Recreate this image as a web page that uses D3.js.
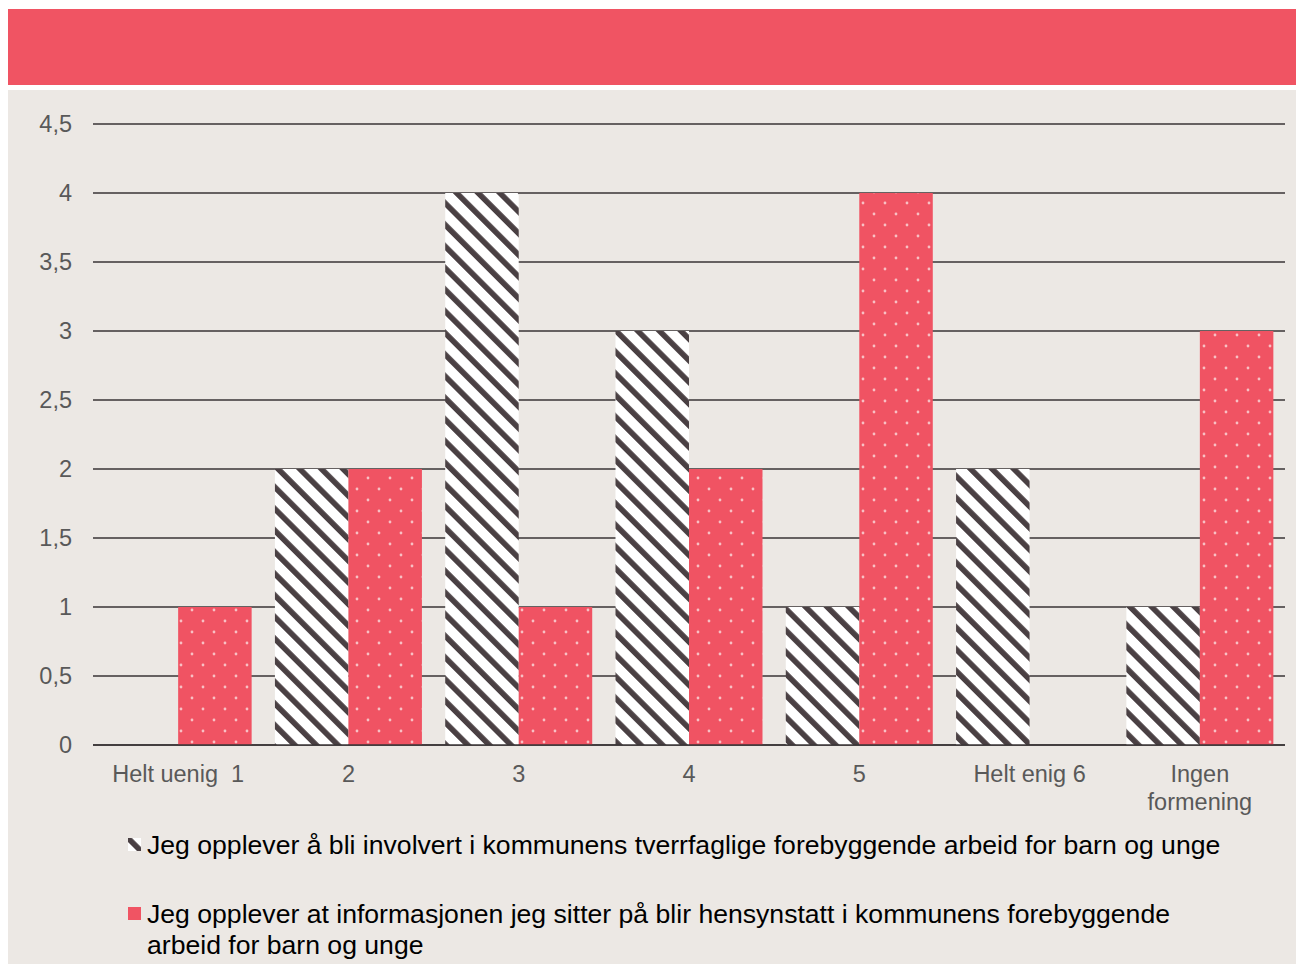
<!DOCTYPE html>
<html lang="en">
<head>
<meta charset="utf-8">
<title>Chart</title>
<script src="https://d3js.org/d3.v7.min.js"></script>
<style>
body { margin: 0; background: #fff; }
text { font-family: "Liberation Sans", Arial, sans-serif; }
</style>
</head>
<body>
<div id="container"></div>
<script>
var w = 1296, h = 964;

var categories = ["Helt uenig  1", "2", "3", "4", "5", "Helt enig 6", "Ingen formening"];
var involvert = [0, 2, 4, 3, 1, 2, 1];
var hensyn = [1, 2, 1, 2, 4, 0, 3];
var yTicks = [0, 0.5, 1, 1.5, 2, 2.5, 3, 3.5, 4, 4.5];
var legendLabels = [
  "Jeg opplever å bli involvert i kommunens tverrfaglige forebyggende arbeid for barn og unge",
  "Jeg opplever at informasjonen jeg sitter på blir hensynstatt i kommunens forebyggende|arbeid for barn og unge"
];

var svg = d3.select("#container").append("svg")
  .attr("width", w).attr("height", h);

var defs = svg.append("defs");
// diagonal stripes, top-left to bottom-right
var sp = 15.3;
var stripe = defs.append("pattern").attr("id", "stripes")
  .attr("patternUnits", "userSpaceOnUse").attr("width", sp).attr("height", sp)
  .attr("patternTransform", "rotate(-45)");
stripe.append("rect").attr("width", sp).attr("height", sp).attr("fill", "#fff");
stripe.append("rect").attr("width", 5.6).attr("height", sp).attr("fill", "#4a4043");
// dots on red
var dots = defs.append("pattern").attr("id", "dots")
  .attr("patternUnits", "userSpaceOnUse").attr("width", 22).attr("height", 22);
dots.append("rect").attr("width", 22).attr("height", 22).attr("fill", "#f05363");
dots.append("circle").attr("cx", 5).attr("cy", 5).attr("r", 1.4).attr("fill", "#f8c0c4");
dots.append("circle").attr("cx", 16).attr("cy", 16).attr("r", 1.4).attr("fill", "#f8c0c4");

// background panels
svg.append("rect").attr("x", 8).attr("y", 9).attr("width", w - 8).attr("height", 76).attr("fill", "#f05463");
svg.append("rect").attr("x", 8).attr("y", 90).attr("width", w - 8).attr("height", h - 90).attr("fill", "#ece8e4");

var x0 = 93, x1 = 1285, yBottom = 745, yTop = 124;
var x = d3.scaleBand().domain(categories).range([x0, x1]).paddingInner(0).paddingOuter(0);
var y = d3.scaleLinear().domain([0, 4.5]).range([yBottom, yTop]);
var barW = 73.5;

// gridlines
svg.append("g").selectAll("line").data(yTicks).enter().append("line")
  .attr("x1", x0).attr("x2", x1)
  .attr("y1", function(d) { return y(d); }).attr("y2", function(d) { return y(d); })
  .attr("stroke", "#3a3436").attr("stroke-width", 1.3);

// y labels
svg.append("g").selectAll("text").data(yTicks).enter().append("text")
  .attr("x", 72).attr("y", function(d) { return y(d) + 8; })
  .attr("text-anchor", "end").attr("font-size", 23.5).attr("fill", "#595959")
  .text(function(d) { return String(d).replace(".", ","); });

// bars
svg.append("g").selectAll("rect").data(involvert).enter().append("rect")
  .attr("x", function(d, i) { return x(categories[i]) + x.bandwidth() / 2 - barW; })
  .attr("y", function(d) { return y(d); })
  .attr("width", barW)
  .attr("height", function(d) { return yBottom - y(d); })
  .attr("fill", "url(#stripes)");
svg.append("g").selectAll("rect").data(hensyn).enter().append("rect")
  .attr("x", function(d, i) { return x(categories[i]) + x.bandwidth() / 2; })
  .attr("y", function(d) { return y(d); })
  .attr("width", barW)
  .attr("height", function(d) { return yBottom - y(d); })
  .attr("fill", "url(#dots)");

// baseline redraw
svg.append("line").attr("x1", x0).attr("x2", x1).attr("y1", y(0)).attr("y2", y(0))
  .attr("stroke", "#3a3436").attr("stroke-width", 1.3);

// x labels
svg.append("g").selectAll("text").data(categories).enter().append("text")
  .attr("x", function(d) { return x(d) + x.bandwidth() / 2; })
  .attr("y", 782).attr("text-anchor", "middle").attr("font-size", 23.5).attr("fill", "#595959")
  .each(function(d) {
    var parts = d === "Ingen formening" ? ["Ingen", "formening"] : [d];
    var t = d3.select(this);
    parts.forEach(function(p, k) {
      t.append("tspan").attr("x", x(d) + x.bandwidth() / 2).attr("dy", k === 0 ? 0 : 28)
        .attr("xml:space", "preserve").text(p);
    });
  });

// legend
var legY = [845, 914];
var fills = ["url(#stripes)", "#f05463"];
legendLabels.forEach(function(lab, i) {
  svg.append("rect").attr("x", 128).attr("y", legY[i] - 7).attr("width", 13).attr("height", 13)
    .attr("fill", fills[i]);
  var t = svg.append("text").attr("x", 147).attr("y", legY[i] + 9)
    .attr("font-size", 26.6).attr("fill", "#000");
  lab.split("|").forEach(function(p, k) {
    t.append("tspan").attr("x", 147).attr("dy", k === 0 ? 0 : 31).text(p);
  });
});
</script>
</body>
</html>
